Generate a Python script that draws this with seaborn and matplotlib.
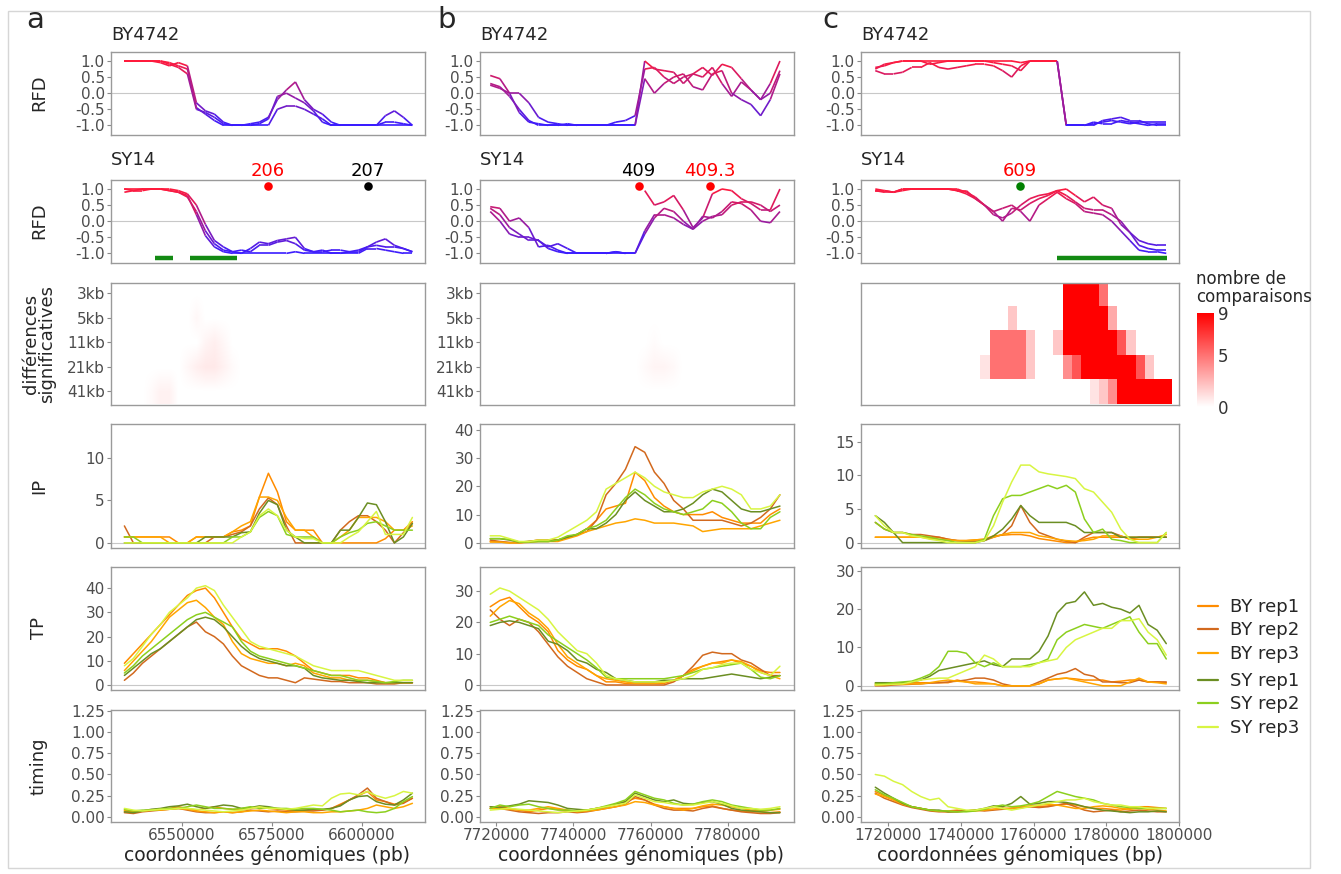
import numpy as np
import pandas as pd
import seaborn as sns
import matplotlib.pyplot as plt
from matplotlib.collections import LineCollection
from matplotlib.colors import LinearSegmentedColormap, Normalize
from matplotlib.lines import Line2D
from matplotlib.patches import Rectangle

# ---------------- data ----------------
reps = ['BY rep1', 'BY rep2', 'BY rep3', 'SY rep1', 'SY rep2', 'SY rep3']
rep_colors = ['#ff8c00', '#d2691e', '#ffa500', '#6b8e23', '#8ccf1e', '#d8f542']
scales = ['3kb', '5kb', '11kb', '21kb', '41kb']

# window positions (bp) for the three regions
pos_a = np.arange(6534000, 6614001, 2500)
pos_b = np.arange(7718500, 7793501, 2500)
pos_c = np.arange(1716500, 1796501, 2500)
nan = np.nan

# RFD, three replicates per strain
rfd_by_a = [
    [1, 1, 1, 1, 1, 0.95, 0.85, 0.75, -0.45, -0.65, -0.85, -1, -1, -1, -0.95, -0.9, -0.75, -0.2, 0.1, 0.35, -0.2, -0.5, -0.65, -0.9, -1, -1, -1, -1, -1, -0.7, -0.55, -0.75, -1],
    [1, 1, 1, 1, 1, 0.9, 0.8, 0.6, -0.5, -0.6, -0.75, -0.95, -1, -1, -1, -1, -1, -0.5, -0.4, -0.4, -0.5, -0.65, -0.8, -1, -1, -1, -1, -1, -1, -0.9, -0.9, -0.95, -1],
    [1, 1, 1, 1, 0.95, 0.85, 0.95, 0.85, -0.3, -0.55, -0.65, -0.9, -1, -1, -1, -0.95, -0.8, -0.1, 0.0, -0.15, -0.3, -0.55, -0.9, -1, -1, -1, -1, -1, -1, -1, -1, -1, -1],
]
rfd_sy_a = [
    [0.9, 0.95, 1, 1, 1, 1, 0.95, 0.85, 0.5, -0.1, -0.6, -0.8, -0.95, -1, -0.85, -0.65, -0.7, -0.6, -0.55, -0.5, -0.85, -0.95, -0.9, -1, -1, -0.95, -0.9, -0.8, -0.65, -0.55, -0.75, -0.85, -0.95],
    [1, 0.95, 0.95, 1, 1, 0.95, 0.9, 0.75, 0.3, -0.3, -0.7, -0.9, -0.95, -0.9, -0.95, -0.75, -0.75, -0.65, -0.6, -0.7, -0.9, -0.95, -0.95, -0.9, -0.9, -0.95, -0.95, -0.8, -0.75, -0.8, -0.8, -0.85, -0.95],
    [1, 1, 1, 1, 1, 0.95, 0.9, 0.8, 0.2, -0.45, -0.8, -0.95, -1, -1, -1, -1, -1, -1, -1, -0.95, -1, -1, -1, -1, -1, -1, -1, -0.85, -0.85, -0.9, -0.95, -1, -1],
]
rfd_by_b = [
    [0.55, 0.45, 0.0, -0.6, -0.9, -0.95, -1, -1, -1, -1, -1, -1, -1, -1, -1, -1, 1.0, 0.75, 0.7, 0.65, 0.3, 0.6, 0.8, 0.55, 0.9, 0.8, 0.45, 0.1, -0.2, 0.3, 1.0],
    [0.3, 0.2, -0.1, -0.5, -0.85, -1, -1, -1, -0.95, -1, -1, -1, -1, -0.9, -0.85, -0.7, 0.75, 0.8, 0.5, 0.3, 0.5, 0.6, 0.5, 0.8, 0.3, -0.1, 0.35, 0.1, -0.2, 0.0, 0.7],
    [0.25, 0.15, 0.0, 0.0, -0.3, -0.75, -0.9, -0.95, -1, -1, -1, -1, -1, -1, -1, -1, 0.45, 0.0, 0.3, 0.5, 0.6, 0.2, 0.1, 0.6, 0.7, 0.0, -0.2, -0.35, -0.7, -0.2, 0.6],
]
rfd_sy_b = [
    [0.45, 0.4, 0.0, 0.1, -0.2, -0.8, -0.75, -0.9, -1, -1, -1, -1, -1, -0.95, -1, nan, 0.95, 0.5, 0.6, 0.8, 0.35, -0.2, 0.1, 0.85, 1.0, 0.95, 0.7, 0.55, 0.35, 0.35, 1.0],
    [0.4, 0.2, -0.2, -0.4, -0.6, -0.6, -0.8, -0.7, -0.85, -1, -1, -1, -1, -0.95, -1, -1, -0.3, 0.2, 0.2, 0.1, -0.1, -0.25, 0.0, 0.15, 0.2, 0.5, 0.6, 0.6, 0.5, 0.3, 0.5],
    [0.3, 0.0, -0.4, -0.5, -0.5, -0.6, -0.85, -0.95, -1, -1, -1, -1, -1, -1, -1, -1, -0.4, 0.1, 0.4, 0.3, 0.0, -0.25, 0.15, 0.1, 0.3, 0.6, 0.55, 0.35, 0.0, -0.05, 0.3],
]
rfd_by_c = [
    [0.75, 0.9, 0.95, 1, 1, 1, 1, 1, 1, 1, 1, 1, 1, 1, 1, 1, 0.95, 1, 1, 1, 1, -1, -1, -1, -0.95, -0.9, -0.85, -0.9, -0.95, -0.9, -0.9, -0.9, -0.9],
    [0.7, 0.6, 0.6, 0.65, 0.8, 0.8, 0.95, 0.8, 0.75, 0.8, 0.85, 0.9, 0.9, 0.85, 0.7, 0.5, 0.85, 1, 1, 1, 1, -1, -1, -1, -1, -0.85, -0.8, -0.75, -0.85, -0.85, -0.95, -1, -1],
    [0.8, 0.85, 0.95, 1, 1, 1, 0.9, 0.95, 1, 1, 1, 1, 1, 0.95, 0.9, 0.85, 0.7, 1, 1, 1, 1, -1, -1, -1, -0.9, -0.95, -0.95, -0.85, -0.9, -0.95, -1, -0.95, -0.95],
]
rfd_sy_c = [
    [0.95, 0.95, 0.9, 1, 1, 1, 1, 1, 1, 1, 0.9, 0.75, 0.5, 0.2, 0.1, 0.25, 0.5, 0.7, 0.8, 0.85, 0.95, 1.0, 0.8, 0.6, 0.75, 0.5, 0.4, -0.1, -0.35, -0.6, -0.7, -0.75, -0.75],
    [0.95, 0.9, 0.9, 0.95, 1, 1, 1, 1, 1, 0.95, 0.95, 0.7, 0.5, 0.3, 0.0, 0.4, 0.35, 0.55, 0.7, 0.8, 0.95, 0.8, 0.6, 0.4, 0.35, 0.35, 0.2, 0.0, -0.35, -0.75, -0.85, -0.9, -0.9],
    [1, 0.95, 0.9, 1, 1, 1, 1, 1, 1, 0.95, 0.85, 0.7, 0.5, 0.3, 0.4, 0.5, 0.3, 0.0, 0.5, 0.7, 0.9, 0.7, 0.55, 0.3, 0.25, 0.2, 0.0, -0.3, -0.6, -0.9, -0.95, -0.95, -1.0],
]

# origins above the SY14 track and significant RFD-change segments
ori_a_pos, ori_a_lab, ori_a_col = [6573900, 6601700], ['206', '207'], ['red', 'black']
ori_b_pos, ori_b_lab, ori_b_col = [7756900, 7775300], ['409', '409.3'], ['black', 'red']
ori_c_pos, ori_c_lab, ori_c_col = [1756300], ['609'], ['red']
ori_dot_b = ['red', 'red']
ori_dot_c = ['green']
sig_a = [(6542500, 6547500), (6552200, 6565300)]
sig_b = []
sig_c = [(1766500, 1796700)]

# number of significant comparisons per window and scale
heat_a = [
    [0, 0, 0, 0, 0, 0, 0, 0, 0, 0, 0, 0, 0, 0, 0, 0, 0, 0, 0, 0, 0, 0, 0, 0, 0, 0, 0, 0, 0, 0, 0, 0, 0],
    [0, 0, 0, 0, 0, 0, 0, 0, 0.3, 0, 0, 0, 0, 0, 0, 0, 0, 0, 0, 0, 0, 0, 0, 0, 0, 0, 0, 0, 0, 0, 0, 0, 0],
    [0, 0, 0, 0, 0, 0, 0, 0, 0, 0.4, 0.6, 0.3, 0, 0, 0, 0, 0, 0, 0, 0, 0, 0, 0, 0, 0, 0, 0, 0, 0, 0, 0, 0, 0],
    [0, 0, 0, 0, 0, 0, 0, 0.3, 0.6, 0.8, 0.8, 0.5, 0.2, 0, 0, 0, 0, 0, 0, 0, 0, 0, 0, 0, 0, 0, 0, 0, 0, 0, 0, 0, 0],
    [0, 0, 0, 0.2, 0.5, 0.5, 0, 0, 0, 0, 0, 0, 0, 0, 0, 0, 0, 0, 0, 0, 0, 0, 0, 0, 0, 0, 0, 0, 0, 0, 0, 0, 0],
]
heat_b = [
    [0, 0, 0, 0, 0, 0, 0, 0, 0, 0, 0, 0, 0, 0, 0, 0, 0, 0, 0, 0, 0, 0, 0, 0, 0, 0, 0, 0, 0, 0, 0],
    [0, 0, 0, 0, 0, 0, 0, 0, 0, 0, 0, 0, 0, 0, 0, 0, 0, 0, 0, 0, 0, 0, 0, 0, 0, 0, 0, 0, 0, 0, 0],
    [0, 0, 0, 0, 0, 0, 0, 0, 0, 0, 0, 0, 0, 0, 0, 0, 0, 0.15, 0, 0, 0, 0, 0, 0, 0, 0, 0, 0, 0, 0, 0],
    [0, 0, 0, 0, 0, 0, 0, 0, 0, 0, 0, 0, 0, 0, 0, 0, 0.2, 0.4, 0.4, 0.25, 0, 0, 0, 0, 0, 0, 0, 0, 0, 0, 0],
    [0, 0, 0, 0, 0, 0, 0, 0, 0, 0, 0, 0, 0, 0, 0, 0, 0, 0, 0, 0, 0, 0, 0, 0, 0, 0, 0, 0, 0, 0, 0],
]
heat_c = [
    [0, 0, 0, 0, 0, 0, 0, 0, 0, 0, 0, 0, 0, 0, 0, 0, 0, 0, 0, 0, 0, 9, 9, 9, 9, 5, 0, 0, 0, 0, 0, 0, 0],
    [0, 0, 0, 0, 0, 0, 0, 0, 0, 0, 0, 0, 0, 0, 0, 2, 0, 0, 0, 0, 0, 9, 9, 9, 9, 9, 3, 0, 0, 0, 0, 0, 0],
    [0, 0, 0, 0, 0, 0, 0, 0, 0, 0, 0, 0, 0, 5, 5, 5, 5, 2, 0, 0, 2, 9, 9, 9, 9, 9, 9, 6, 2, 0, 0, 0, 0],
    [0, 0, 0, 0, 0, 0, 0, 0, 0, 0, 0, 0, 1, 5, 5, 5, 5, 2, 0, 0, 0, 4, 6, 9, 9, 9, 9, 9, 9, 6, 2, 0, 0],
    [0, 0, 0, 0, 0, 0, 0, 0, 0, 0, 0, 0, 0, 0, 0, 0, 0, 0, 0, 0, 0, 0, 0, 0, 1, 2, 4, 9, 9, 9, 9, 9, 9],
]

# IP, TP and timing, order: BY rep1-3, SY rep1-3
ip_a = [
    [0.7, 0.7, 0.7, 0.7, 0.7, 0.7, 0, 0, 0.7, 0.7, 0.7, 0.7, 1.3, 1.5, 2.0, 5.4, 8.2, 6.0, 2.5, 1.5, 1.5, 1.5, 0, 0, 0, 0, 0, 0, 0, 0.5, 1.5, 1.5, 2.5],
    [2.0, 0, 0, 0, 0, 0, 0, 0, 0, 0, 0.7, 0.7, 1.0, 1.3, 2.0, 4.0, 5.3, 4.5, 2.0, 0, 0, 0, 0, 0, 1.5, 2.5, 3.2, 3.2, 2.5, 1.5, 0, 1.2, 2.3],
    [0.7, 0.7, 0.7, 0.7, 0.7, 0, 0, 0, 0.7, 0.7, 0.7, 0.7, 1.3, 2.0, 2.5, 5.4, 5.4, 5.0, 3.0, 1.5, 1.5, 0.7, 0, 0, 0.7, 1.5, 3.0, 3.0, 3.0, 2.5, 1.5, 1.5, 2.0],
    [0, 0, 0, 0, 0, 0, 0, 0, 0, 0.7, 0.7, 0.7, 0.7, 1.2, 1.3, 3.5, 5.0, 4.5, 1.5, 0.7, 0, 0, 0, 0, 1.5, 1.5, 3.0, 4.7, 4.5, 2.5, 0, 0.7, 2.3],
    [0.7, 0.7, 0, 0, 0, 0, 0, 0, 0, 0, 0, 0, 0.7, 0.7, 1.3, 3.0, 3.7, 3.2, 1.0, 0.7, 0.7, 0.7, 0, 0, 0.7, 1.2, 1.5, 2.3, 2.5, 2.0, 1.5, 1.5, 1.5],
    [0, 0, 0, 0, 0, 0, 0, 0, 0, 0, 0, 0, 0, 0.7, 1.3, 3.2, 4.0, 3.2, 1.5, 0.7, 0.5, 0.5, 0, 0, 0, 0.7, 1.3, 2.5, 3.7, 1.0, 1.0, 1.0, 3.0],
]
ip_b = [
    [0.5, 0.3, 0, 0.3, 0.5, 1, 1, 1, 2, 3, 5, 8, 12, 13, 14, 25, 22, 16, 13, 11, 10, 10, 10, 11, 9, 8, 7, 7, 7, 10, 12],
    [1, 0.5, 0.2, 0, 0.5, 1, 1, 1, 2, 3, 4, 8, 17, 21, 26, 34, 32, 25, 21, 15, 12, 8, 8, 8, 8, 7, 6, 7, 9, 12, 17],
    [0.3, 0.3, 0, 0, 0.2, 0.5, 0.5, 0.5, 1.5, 2.5, 4, 5, 6, 7, 7.5, 8.5, 8, 7, 7, 7, 6.5, 6, 4, 4.5, 5, 5, 5, 5, 6, 7, 8],
    [1.5, 1.5, 1, 0.3, 0.5, 0.5, 0.5, 1, 2, 3, 5, 5, 7, 10, 15, 18, 15, 13, 11, 11, 12, 14, 17, 19, 18, 15, 12, 11, 11, 12, 13],
    [1.5, 1.5, 1.2, 0.3, 0.3, 0.5, 0.5, 1, 2.5, 3, 5, 6, 8, 12, 16, 19, 17, 14, 12, 11, 10, 11, 12, 15, 14, 11, 7, 5, 5, 9, 11],
    [2.5, 2.5, 1.5, 0.5, 0.5, 1, 1, 2, 4, 6, 8, 11, 19, 21, 23, 25, 23, 20, 18, 17, 16, 16, 18, 19, 20, 19, 17, 12, 12, 13, 17],
]
ip_c = [
    [0.8, 0.8, 0.8, 0.8, 0.8, 0.8, 0.8, 0.8, 0.5, 0.3, 0.3, 0.4, 0.5, 1, 1.1, 1.2, 1.2, 1, 0.6, 0.4, 0.2, 0, 0, 0.5, 0.8, 0.8, 0.8, 0.8, 0.8, 0.8, 0.8, 0.8, 0.8],
    [3, 2, 1.5, 1.5, 1.2, 1.2, 1, 0.8, 0.5, 0.3, 0.2, 0.2, 0.3, 0.8, 1.2, 2.5, 5.5, 3, 1.5, 1, 0.5, 0.2, 0, 0.8, 1.5, 1.5, 1.5, 1, 0.5, 0.8, 0.8, 0.8, 0.8],
    [0.8, 0.8, 0.8, 0.8, 0.8, 0.8, 0.6, 0.5, 0.4, 0.3, 0.3, 0.4, 0.5, 0.8, 1.2, 1.5, 1.5, 1.5, 1.0, 0.8, 0.5, 0.3, 0.2, 0.3, 0.5, 1, 1, 1, 0.5, 0.5, 0.5, 0.8, 1.2],
    [4, 3, 1.5, 0, 0, 0, 0, 0, 0, 0, 0, 0, 0.3, 1, 2, 3.5, 5.5, 4, 3, 3, 3, 3, 2.5, 1.5, 1.5, 1.5, 1.5, 0.8, 0.8, 0.8, 0.8, 0.8, 0.8],
    [3, 2, 1.5, 1.5, 1.2, 1, 0.8, 0.5, 0.3, 0, 0, 0, 0.5, 4, 6.5, 7, 7, 7.5, 8, 8.5, 8, 8.5, 7.5, 3.5, 1.5, 2, 0.5, 0.3, 0, 0, 0, 0, 1.5],
    [4, 2.5, 1.5, 1.5, 1, 0.8, 0.5, 0.3, 0, 0, 0, 0, 0.3, 2.5, 6, 9, 11.5, 11.5, 10.5, 10.2, 10, 9.8, 9.5, 8, 7.5, 6, 4.5, 2, 0.5, 0, 0, 0, 1.5],
]
tp_a = [
    [9, 13, 17, 21, 25, 29, 33, 37, 39, 40, 36, 30, 24, 19, 17, 15, 15, 15, 14, 12, 9, 6, 5, 4, 4, 4, 3, 3, 2, 1, 1, 1, 1],
    [2, 5, 9, 12, 15, 18, 21, 24, 26, 22, 20, 17, 12, 8, 6, 4, 3, 3, 2, 1, 3, 2.5, 2, 1.5, 1.5, 1, 1, 1, 0.5, 0.5, 0.5, 1, 1],
    [6, 10, 14, 18, 23, 28, 31, 34, 35, 32, 28, 25, 18, 13, 11, 10, 9, 9, 8, 9, 8, 5, 4, 3, 3, 2, 2, 2, 1.5, 1, 1, 1, 1],
    [4, 7, 10, 13, 15, 18, 21, 24, 27, 28, 27, 24, 20, 16, 13, 11, 10, 9, 8, 8, 7, 4, 3, 2.5, 2, 2, 1.5, 1, 1, 1, 1, 1, 1],
    [5, 8, 12, 15, 18, 21, 24, 27, 29, 30, 28, 26, 24, 18, 14, 12, 11, 10, 9, 8, 7, 6, 5, 4, 4, 3, 2, 2, 1.5, 1, 1.5, 2, 2],
    [8, 11, 16, 21, 25, 30, 33, 36, 40, 41, 39, 33, 28, 23, 18, 16, 15, 14, 13, 12, 10, 8, 7, 6, 6, 6, 6, 5, 4, 3, 2, 2, 2],
]
tp_b = [
    [25, 27, 28, 25, 22, 20, 17, 11, 8, 6, 5, 3, 1, 1, 0.5, 0.5, 0.5, 0.5, 0.5, 1.5, 3, 5, 6, 7, 7.5, 8, 7, 6, 4.5, 4, 4],
    [24, 21, 19, 21, 20, 17, 13, 9, 6, 4, 2, 1, 0, 0, 0, 0, 0, 0, 0, 1, 3, 6, 9.5, 10.5, 10, 10, 8, 7, 5, 3, 3],
    [22, 25, 27, 26, 23, 21, 18, 13, 9, 7, 5, 3, 2, 1.5, 1, 0.5, 0.5, 0.5, 1, 1.5, 3, 4.5, 6, 7, 7, 8, 7.5, 6, 4, 3, 2],
    [19, 20, 20.5, 20, 19, 18, 14, 13, 11, 8, 7, 5, 4, 2, 1.5, 1, 1, 1, 1.5, 1.5, 2, 2, 2, 2.5, 3, 3.5, 3, 2.5, 2, 2.5, 3],
    [20, 21, 22, 21, 20, 19, 16, 14, 12, 10, 8, 5.5, 2.5, 2, 2, 2, 2, 2, 2, 2.5, 3, 4, 5, 5.5, 6, 6.5, 7, 5, 2.5, 2, 3],
    [29, 31, 30, 28, 26, 24, 21, 17, 14, 11, 10, 7, 3, 2, 1.5, 1, 1, 1, 1, 1.5, 2, 3, 5, 5.5, 6.5, 7, 7, 5, 4, 3, 6],
]
tp_c = [
    [0.5, 0.5, 0.6, 0.7, 0.8, 0.8, 0.8, 0.8, 0.8, 1.5, 1, 1, 0.8, 0.5, 0, 0, 0, 0, 0.5, 1.5, 1.8, 2, 1.8, 1.5, 1.5, 1.5, 1, 1.2, 1.5, 1.5, 1, 1, 0.8],
    [0, 0, 0.2, 0.3, 0.4, 0.5, 0.7, 0.8, 1, 1.2, 1.5, 2, 2, 1.5, 0.5, 0, 0, 0, 1, 2, 3, 3.5, 4.5, 3, 2.5, 1, 1, 0.8, 0.8, 1.5, 1, 1, 1],
    [0.2, 0.3, 0.4, 0.4, 0.5, 0.5, 0.8, 1.2, 1.5, 1.2, 1, 0.5, 0.5, 0.5, 0, 0, 0, 0, 0.5, 1.5, 1.8, 2, 1.5, 1, 0.5, 0, 0, 0, 1, 2, 1, 0.8, 0.5],
    [0.8, 0.8, 0.8, 0.8, 1, 1.5, 2.5, 4, 4.5, 5, 5.5, 6, 6.5, 5.5, 5, 7, 7, 7, 9, 13, 19, 21.5, 22, 24.5, 21, 21.5, 20.5, 20, 19, 21, 16, 14.5, 11],
    [0.5, 0.5, 0.8, 1, 1.2, 2, 3, 5, 9, 9, 8.5, 6, 5, 6, 5, 5, 5, 5.5, 6, 7, 12, 14, 15, 16, 15.5, 15, 16, 17, 18, 14, 11, 11, 7],
    [0.2, 0.3, 0.4, 0.5, 1, 1.5, 1.8, 2, 2, 3, 4, 5, 8, 7, 5, 5, 5, 5, 6, 6.5, 7, 10, 12, 13, 14, 15, 15, 17, 17, 17.5, 14, 12, 8],
]
timing_a = [
    [0.07, 0.06, 0.07, 0.08, 0.09, 0.1, 0.12, 0.1, 0.08, 0.1, 0.12, 0.1, 0.09, 0.08, 0.1, 0.12, 0.1, 0.09, 0.08, 0.07, 0.08, 0.08, 0.08, 0.1, 0.15, 0.2, 0.25, 0.3, 0.2, 0.18, 0.15, 0.17, 0.22],
    [0.05, 0.04, 0.06, 0.07, 0.08, 0.09, 0.1, 0.08, 0.06, 0.05, 0.05, 0.06, 0.05, 0.06, 0.08, 0.07, 0.06, 0.07, 0.06, 0.06, 0.07, 0.07, 0.08, 0.1, 0.14, 0.2, 0.26, 0.34, 0.22, 0.18, 0.14, 0.16, 0.22],
    [0.08, 0.07, 0.07, 0.08, 0.08, 0.09, 0.1, 0.09, 0.07, 0.06, 0.05, 0.06, 0.05, 0.06, 0.07, 0.08, 0.07, 0.06, 0.05, 0.06, 0.06, 0.05, 0.05, 0.06, 0.06, 0.07, 0.08, 0.1, 0.14, 0.12, 0.1, 0.12, 0.16],
    [0.06, 0.05, 0.07, 0.09, 0.1, 0.12, 0.13, 0.15, 0.12, 0.1, 0.12, 0.14, 0.13, 0.1, 0.11, 0.13, 0.12, 0.1, 0.09, 0.08, 0.08, 0.09, 0.09, 0.1, 0.13, 0.2, 0.24, 0.25, 0.18, 0.15, 0.14, 0.2, 0.28],
    [0.09, 0.07, 0.08, 0.08, 0.09, 0.1, 0.1, 0.12, 0.14, 0.12, 0.1, 0.1, 0.09, 0.1, 0.12, 0.1, 0.11, 0.1, 0.1, 0.09, 0.1, 0.1, 0.09, 0.08, 0.06, 0.07, 0.08, 0.06, 0.05, 0.06, 0.1, 0.18, 0.24],
    [0.1, 0.08, 0.07, 0.08, 0.09, 0.09, 0.1, 0.1, 0.09, 0.08, 0.07, 0.06, 0.07, 0.08, 0.1, 0.12, 0.1, 0.1, 0.09, 0.1, 0.12, 0.14, 0.13, 0.22, 0.27, 0.28, 0.26, 0.3, 0.25, 0.22, 0.25, 0.3, 0.28],
]
timing_b = [
    [0.1, 0.12, 0.1, 0.08, 0.06, 0.08, 0.1, 0.09, 0.07, 0.06, 0.08, 0.1, 0.12, 0.15, 0.18, 0.22, 0.2, 0.15, 0.12, 0.1, 0.1, 0.1, 0.12, 0.13, 0.1, 0.08, 0.07, 0.06, 0.06, 0.05, 0.06],
    [0.12, 0.1, 0.08, 0.06, 0.05, 0.04, 0.05, 0.05, 0.06, 0.05, 0.06, 0.08, 0.1, 0.12, 0.15, 0.24, 0.2, 0.14, 0.1, 0.08, 0.08, 0.07, 0.1, 0.12, 0.1, 0.08, 0.06, 0.05, 0.04, 0.04, 0.05],
    [0.1, 0.1, 0.09, 0.08, 0.08, 0.1, 0.12, 0.1, 0.08, 0.06, 0.07, 0.08, 0.1, 0.12, 0.14, 0.18, 0.17, 0.14, 0.12, 0.1, 0.08, 0.1, 0.13, 0.15, 0.14, 0.12, 0.1, 0.08, 0.07, 0.08, 0.09],
    [0.12, 0.11, 0.13, 0.15, 0.19, 0.18, 0.17, 0.14, 0.1, 0.09, 0.08, 0.1, 0.12, 0.15, 0.18, 0.28, 0.24, 0.2, 0.18, 0.2, 0.16, 0.15, 0.17, 0.18, 0.15, 0.1, 0.08, 0.07, 0.06, 0.05, 0.05],
    [0.1, 0.14, 0.12, 0.14, 0.15, 0.12, 0.1, 0.08, 0.08, 0.07, 0.08, 0.1, 0.13, 0.16, 0.2, 0.3, 0.26, 0.22, 0.2, 0.16, 0.14, 0.15, 0.18, 0.2, 0.18, 0.14, 0.12, 0.1, 0.08, 0.08, 0.1],
    [0.08, 0.09, 0.1, 0.09, 0.08, 0.07, 0.06, 0.05, 0.06, 0.07, 0.08, 0.1, 0.12, 0.14, 0.16, 0.26, 0.22, 0.18, 0.17, 0.15, 0.14, 0.14, 0.16, 0.18, 0.16, 0.13, 0.1, 0.1, 0.09, 0.1, 0.12],
]
timing_c = [
    [0.3, 0.25, 0.2, 0.15, 0.12, 0.1, 0.08, 0.07, 0.07, 0.08, 0.07, 0.08, 0.08, 0.09, 0.1, 0.1, 0.11, 0.12, 0.12, 0.13, 0.14, 0.15, 0.14, 0.12, 0.1, 0.1, 0.09, 0.08, 0.1, 0.12, 0.12, 0.11, 0.1],
    [0.28, 0.22, 0.18, 0.14, 0.11, 0.09, 0.07, 0.06, 0.06, 0.07, 0.07, 0.08, 0.07, 0.08, 0.09, 0.1, 0.11, 0.12, 0.11, 0.12, 0.14, 0.16, 0.12, 0.08, 0.06, 0.07, 0.08, 0.06, 0.07, 0.08, 0.07, 0.06, 0.06],
    [0.27, 0.24, 0.2, 0.15, 0.12, 0.1, 0.08, 0.07, 0.06, 0.06, 0.07, 0.07, 0.08, 0.09, 0.1, 0.1, 0.12, 0.13, 0.14, 0.15, 0.14, 0.12, 0.1, 0.1, 0.12, 0.13, 0.12, 0.1, 0.09, 0.1, 0.09, 0.08, 0.07],
    [0.35, 0.28, 0.22, 0.16, 0.12, 0.1, 0.08, 0.08, 0.06, 0.06, 0.07, 0.08, 0.1, 0.13, 0.12, 0.16, 0.24, 0.15, 0.16, 0.18, 0.18, 0.17, 0.15, 0.12, 0.1, 0.08, 0.07, 0.06, 0.05, 0.06, 0.06, 0.07, 0.06],
    [0.32, 0.26, 0.22, 0.17, 0.12, 0.1, 0.08, 0.07, 0.07, 0.06, 0.06, 0.07, 0.09, 0.12, 0.14, 0.12, 0.13, 0.15, 0.18, 0.24, 0.3, 0.27, 0.24, 0.22, 0.2, 0.16, 0.14, 0.12, 0.11, 0.1, 0.1, 0.1, 0.1],
    [0.5, 0.48, 0.42, 0.38, 0.3, 0.24, 0.2, 0.22, 0.12, 0.1, 0.08, 0.08, 0.1, 0.12, 0.1, 0.08, 0.1, 0.12, 0.14, 0.16, 0.18, 0.2, 0.2, 0.22, 0.18, 0.16, 0.14, 0.14, 0.12, 0.12, 0.1, 0.1, 0.1],
]

# ---------------- drawing ----------------
sns.set_theme(style='white')
plt.rcParams['font.family'] = ['DejaVu Sans']
plt.rcParams['axes.unicode_minus'] = False

W, H = 1341, 874
fig = plt.figure(figsize=(W / 100, H / 100), dpi=100)
palette = dict(zip(reps, rep_colors))
rfd_cmap = LinearSegmentedColormap.from_list('rfd', ['#3a1cff', '#ff1a3c'])
heat_cmap = LinearSegmentedColormap.from_list('heat', ['#ffffff', '#ff0000'])
GRAY = '#4d4d4d'


def add_ax(x0, y0, x1, y1):
    return fig.add_axes([x0 / W, 1 - y1 / H, (x1 - x0) / W, (y1 - y0) / H])


def style(ax):
    for s in ax.spines.values():
        s.set_color('#9a9a9a')
        s.set_linewidth(1.0)
    ax.tick_params(colors='#8a8a8a', labelcolor=GRAY, labelsize=11,
                   length=3, width=0.8, left=True, bottom=True, pad=1.5)


def rfd_panel(ax, pos, lines):
    ax.axhline(0, color='#c8c8c8', lw=0.8, zorder=0)
    for vals in lines:
        v = np.asarray(vals, dtype=float)
        pts = np.column_stack([pos, v])
        segs = np.stack([pts[:-1], pts[1:]], axis=1)
        lc = LineCollection(segs, cmap=rfd_cmap, norm=Normalize(-1, 1), linewidths=1.2)
        lc.set_array((v[:-1] + v[1:]) / 2)
        ax.add_collection(lc)
    ax.set_ylim(-1.3, 1.28)
    ax.set_yticks([-1, -0.5, 0, 0.5, 1])
    ax.set_yticklabels(['-1.0', '-0.5', '0.0', '0.5', '1.0'])


def tracks_panel(ax, pos, series, zero_line=True):
    df = pd.DataFrame({'pos': np.tile(pos, len(reps)),
                       'value': np.concatenate([np.asarray(s, float) for s in series]),
                       'rep': np.repeat(reps, len(pos))})
    if zero_line:
        ax.axhline(0, color='#c8c8c8', lw=0.8, zorder=0)
    sns.lineplot(data=df, x='pos', y='value', hue='rep', hue_order=reps,
                 palette=palette, estimator=None, sort=False, lw=1.1,
                 legend=False, ax=ax)
    ax.set_xlabel('')
    ax.set_ylabel('')


columns = [
    dict(x=(111, 425), pos=pos_a, xlim=(6530280, 6617500), xticks=[6550000, 6575000, 6600000],
         by=rfd_by_a, sy=rfd_sy_a, ori=(ori_a_pos, ori_a_lab, ori_a_col, ori_a_col), sig=sig_a,
         heat=heat_a, interp='bilinear', ip=ip_a, ip_lim=(-0.6, 14), ip_ticks=[0, 5, 10],
         tp=tp_a, tp_lim=(-2, 48.7), tp_ticks=[0, 10, 20, 30, 40], tim=timing_a,
         xlab='coordonnées génomiques (pb)', xlab_x=267),
    dict(x=(480, 794), pos=pos_b, xlim=(7715850, 7797140),
         xticks=[7720000, 7740000, 7760000, 7780000, 7800000],
         by=rfd_by_b, sy=rfd_sy_b, ori=(ori_b_pos, ori_b_lab, ori_b_col, ori_dot_b), sig=sig_b,
         heat=heat_b, interp='bilinear', ip=ip_b, ip_lim=(-1.8, 42), ip_ticks=[0, 10, 20, 30, 40],
         tp=tp_b, tp_lim=(-1.6, 37.7), tp_ticks=[0, 10, 20, 30], tim=timing_b,
         xlab='coordonnées génomiques (pb)', xlab_x=641),
    dict(x=(861, 1179), pos=pos_c, xlim=(1712570, 1800000),
         xticks=[1720000, 1740000, 1760000, 1780000, 1800000],
         by=rfd_by_c, sy=rfd_sy_c, ori=(ori_c_pos, ori_c_lab, ori_c_col, ori_dot_c), sig=sig_c,
         heat=heat_c, interp='nearest', ip=ip_c, ip_lim=(-0.8, 17.6), ip_ticks=[0, 5, 10, 15],
         tp=tp_c, tp_lim=(-1.1, 31), tp_ticks=[0, 10, 20, 30], tim=timing_c,
         xlab='coordonnées génomiques (bp)', xlab_x=1020),
]
rows = [(52, 135), (180, 263), (283, 405), (424, 548), (567, 690), (710, 822)]

for j, col in enumerate(columns):
    x0, x1 = col['x']
    axes = [add_ax(x0, r0, x1, r1) for r0, r1 in rows]
    for ax in axes:
        style(ax)
        ax.set_xlim(*col['xlim'])
    ax_by, ax_sy, ax_h, ax_ip, ax_tp, ax_tim = axes

    rfd_panel(ax_by, col['pos'], col['by'])
    rfd_panel(ax_sy, col['pos'], col['sy'])
    for a, b in col['sig']:
        ax_sy.plot([a, b], [-1.15, -1.15], color='#138a13', lw=3.2, solid_capstyle='butt')
    o_pos, o_lab, o_col, o_dot = col['ori']
    for p, lab, c, d in zip(o_pos, o_lab, o_col, o_dot):
        ax_sy.scatter([p], [1.1], s=38, color=d, clip_on=False, zorder=5, linewidths=0)
        ax_sy.text(p, 1.55, lab, color=c, fontsize=13, ha='center', va='center', clip_on=False)

    ext = [col['pos'][0] - 1250, col['pos'][-1] + 1250, 4.5, -0.5]
    im = ax_h.imshow(np.asarray(col['heat'], float), cmap=heat_cmap, vmin=0, vmax=9,
                     aspect='auto', extent=ext, interpolation=col['interp'])
    ax_h.set_xlim(*col['xlim'])
    ax_h.set_ylim(4.55, -0.42)
    if j < 2:
        ax_h.set_yticks(range(5))
        ax_h.set_yticklabels(scales)
    else:
        ax_h.set_yticks([])

    tracks_panel(ax_ip, col['pos'], col['ip'])
    ax_ip.set_ylim(*col['ip_lim'])
    ax_ip.set_yticks(col['ip_ticks'])
    tracks_panel(ax_tp, col['pos'], col['tp'])
    ax_tp.set_ylim(*col['tp_lim'])
    ax_tp.set_yticks(col['tp_ticks'])
    tracks_panel(ax_tim, col['pos'], col['tim'], zero_line=False)
    ax_tim.set_ylim(-0.06, 1.26)
    ax_tim.set_yticks([0, 0.25, 0.5, 0.75, 1.0, 1.25])
    ax_tim.set_yticklabels(['0.00', '0.25', '0.50', '0.75', '1.00', '1.25'])

    for ax in axes[:-1]:
        ax.set_xticks([])
    ax_tim.set_xticks(col['xticks'])
    ax_tim.set_xticklabels([str(t) for t in col['xticks']])
    for ax in axes:
        ax.set_xlim(*col['xlim'])

    fig.text(x0 / W, 1 - 35 / H, 'BY4742', fontsize=13, ha='left', va='center')
    fig.text(x0 / W, 1 - 160 / H, 'SY14', fontsize=13, ha='left', va='center')
    fig.text(col['xlab_x'] / W, 1 - 855 / H, col['xlab'], fontsize=13.5, ha='center', va='center')

    if j == 2:
        cax = add_ax(1197, 313, 1214, 407)
        cb = fig.colorbar(im, cax=cax)
        cb.outline.set_visible(False)
        cb.set_ticks([0, 5, 9])
        cax.tick_params(length=0, labelsize=12, labelcolor='#333333', pad=3, right=True)

# panel letters and row labels
for lab, x in zip(['a', 'b', 'c'], [35, 447, 830]):
    fig.text(x / W, 1 - 20 / H, lab, fontsize=21, ha='center', va='center')
for lab, yc in zip(['RFD', 'RFD', 'différences\nsignificatives', 'IP', 'TP', 'timing'],
                   [93, 221, 344, 486, 628, 766]):
    fig.text(39 / W, 1 - yc / H, lab, fontsize=13, rotation=90, ha='center', va='center',
             linespacing=0.9)

fig.text(1196 / W, 1 - 288 / H, 'nombre de\ncomparaisons', fontsize=12, ha='left',
         va='center', linespacing=0.95)

# legend, split in the two strains
for names, top in [(reps[:3], 598), (reps[3:], 672)]:
    handles = [Line2D([], [], color=palette[n], lw=1.6) for n in names]
    fig.legend(handles, names, loc='upper left', bbox_to_anchor=(1198 / W, 1 - top / H),
               frameon=False, fontsize=13, handlelength=1.1, handletextpad=0.7,
               labelspacing=0.3, borderpad=0, borderaxespad=0)

fig.add_artist(Rectangle((8 / W, 1 - 868 / H), 1302 / W, 857 / H, transform=fig.transFigure,
                         fill=False, ec='#d6d6d6', lw=1))

fig.savefig('out.png', dpi=100)
